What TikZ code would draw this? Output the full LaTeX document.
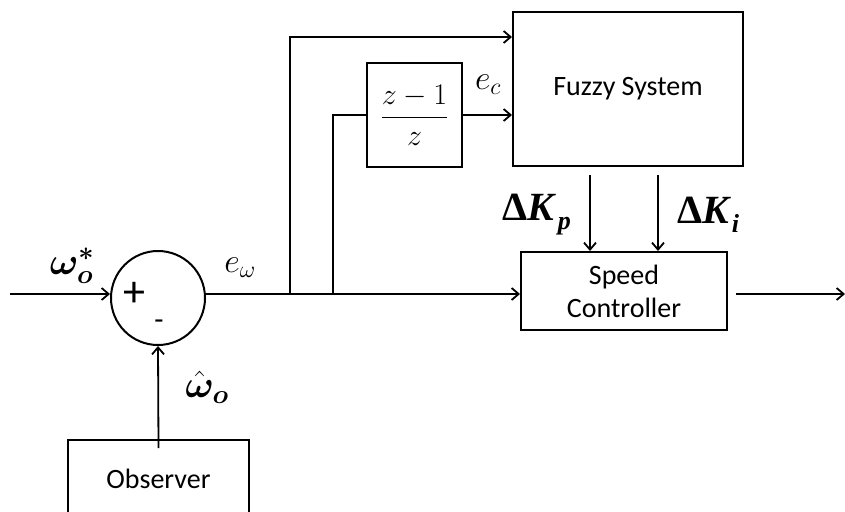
\RequirePackage{fix-cm}
\documentclass[tikz,border=0pt]{standalone}
\usepackage{amsmath,bm}
\usepackage{fontspec}
\setmainfont{Carlito}
\newfontfamily\tnr{Liberation Serif}
\usetikzlibrary{arrows.meta,calc}
\tikzset{
  blk/.style={draw,line width=2pt,inner sep=0pt,align=center,font=\fontsize{28}{33}\selectfont},
  arr/.style={line width=1.8pt,-{Straight Barb[length=7pt,width=12pt,line width=1.8pt]}},
  ln/.style={line width=1.8pt},
  lbl/.style={inner sep=0pt}
}
\begin{document}
\begin{tikzpicture}[x=1pt,y=-1pt]
\useasboundingbox (0,0) rectangle (845,511);
\clip (0,0) rectangle (845,511);
% blocks
\node[draw,circle,line width=2pt,minimum size=94pt,inner sep=0pt] (sum) at (158,298) {};
\node[lbl,font=\fontsize{44}{44}\selectfont] (plus) at (134,294) {+};
\node[lbl,font=\fontsize{30}{30}\selectfont] (minus) at (159,325) {-};
\node[blk,minimum width=230pt,minimum height=154pt] (fz) at (628,89) {Fuzzy System};
\node[blk,minimum width=95pt,minimum height=104pt] (zb) at (414.5,115) {\fontsize{30}{34}\selectfont$\dfrac{z-1}{z}$};
\node[blk,minimum width=206pt,minimum height=78pt] (sc) at (624,291) {Speed\\Controller};
\node[blk,minimum width=181pt,minimum height=78pt,anchor=north] (obs) at (158.5,439) {Observer};
% coordinates
\coordinate (in) at (10,294);
\coordinate (b1) at (290,294);
\coordinate (b2) at (333,294);
\coordinate (fin1) at (fz.west |- 0,37);
\coordinate (kp) at (590,175);
\coordinate (ki) at (658,175);
\coordinate (out) at (845,294);
% connectors
\draw[arr] (in) -- (sum.west |- in);
\draw[arr] (sum.east |- b1) -- (sc.west |- b1);
\draw[arr] (b1) |- (fin1);
\draw[ln] (b2) |- (zb.west);
\draw[arr] (zb.east) -- (zb.east -| fz.west);
\draw[arr] (kp) -- (kp |- sc.north);
\draw[arr] (ki) -- (ki |- sc.north);
\draw[arr] ([xshift=8pt]sc.east |- out) -- (out);
\draw[arr] ([yshift=-9pt]obs.north) -- (sum.south);
% labels
\node[lbl] (wstar) at (72,266) {\fontsize{38}{38}\selectfont$\bm{\omega}_{\bm{o}}^{\bm{*}}$};
\node[lbl] (ew) at (240,268) {\fontsize{34}{34}\selectfont$e_{\omega}$};
\node[lbl] (ec) at (488,85) {\fontsize{34}{34}\selectfont$e_{c}$};
\node[lbl,anchor=west] (dkp) at (502,215) {\fontsize{40}{40}\selectfont\tnr\bfseries Δ\itshape K\kern4pt\raisebox{-9pt}{\fontsize{26}{26}\selectfont p}};
\node[lbl,anchor=west] (dki) at (677,215) {\fontsize{40}{40}\selectfont\tnr\bfseries Δ\itshape K\kern3pt\raisebox{-9pt}{\fontsize{26}{26}\selectfont i}};
\node[lbl] (what) at (207,387) {\fontsize{38}{38}\selectfont$\hat{\bm{\omega}}_{\bm{o}}$};
\end{tikzpicture}
\end{document}
